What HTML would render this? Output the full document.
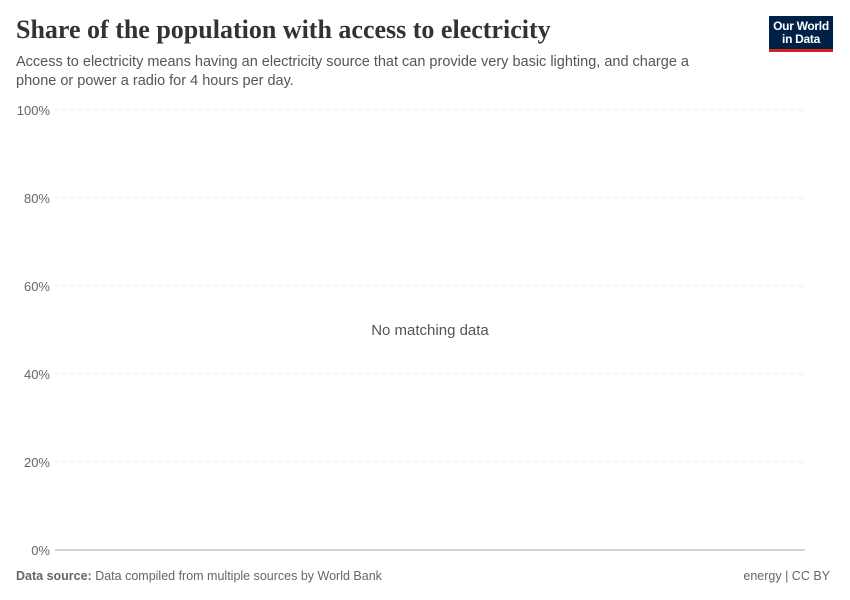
<!DOCTYPE html>
<html><head><meta charset="utf-8"><style>
body{margin:0;width:850px;height:600px;background:#fff;font-family:"Liberation Sans",sans-serif;position:relative;overflow:hidden}
.t{position:absolute;white-space:nowrap}
</style></head><body>
<div class="t" style="left:16px;top:15px;font-family:'Liberation Serif',serif;font-weight:bold;font-size:26px;color:#333">Share of the population with access to electricity</div>
<div class="t" style="left:16px;top:53px;font-size:14.5px;color:#555;line-height:19px">Access to electricity means having an electricity source that can provide very basic lighting, and charge a<br>phone or power a radio for 4 hours per day.</div>
<div style="position:absolute;left:769px;top:16px;width:64px;height:36px;background:#002147;border-bottom:3px solid #ce261e;color:#fff;font-size:12px;font-weight:bold;line-height:13px;text-align:center;padding-top:4px;box-sizing:border-box;letter-spacing:-0.3px">Our World<br>in Data</div>
<svg width="850" height="600" style="position:absolute;left:0;top:0">
<g stroke="#eee" stroke-dasharray="4,4">
<line x1="55" x2="805" y1="110" y2="110"/><line x1="55" x2="805" y1="198" y2="198"/><line x1="55" x2="805" y1="286" y2="286"/><line x1="55" x2="805" y1="374" y2="374"/><line x1="55" x2="805" y1="462" y2="462"/></g>
<line x1="55" x2="805" y1="550" y2="550" stroke="#aaa"/>
<g font-family="Liberation Sans" font-size="13" fill="#666" text-anchor="end">
<text x="50" y="115">100%</text><text x="50" y="203">80%</text><text x="50" y="291">60%</text><text x="50" y="379">40%</text><text x="50" y="467">20%</text><text x="50" y="555">0%</text></g>
<text x="430" y="335" text-anchor="middle" font-family="Liberation Sans" font-size="15" fill="#555">No matching data</text>
</svg>
<div class="t" style="left:16px;top:569px;font-size:12.5px;color:#666"><b>Data source:</b> Data compiled from multiple sources by World Bank</div>
<div class="t" style="right:20px;top:569px;font-size:12.5px;color:#666">energy | CC BY</div>
</body></html>
